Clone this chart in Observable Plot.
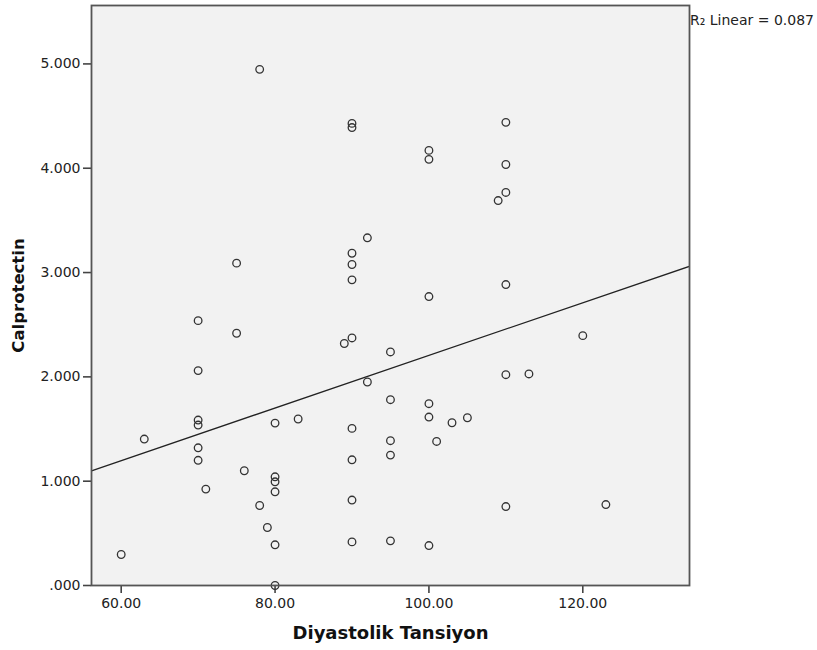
<!DOCTYPE html>
<html><head><meta charset="utf-8">
<script src="https://cdn.jsdelivr.net/npm/d3@7"></script>
<script src="https://cdn.jsdelivr.net/npm/@observablehq/plot@0.6"></script>
<style>
html,body{margin:0;padding:0;background:#fff;}
#chart{position:relative;width:817px;height:650px;}
#rsq{position:absolute;left:690px;top:12px;font:14px "DejaVu Sans",sans-serif;color:#222;white-space:nowrap;line-height:16px;}
</style></head><body><div id="chart"><div id="rsq"></div></div>
<script>
// Diastolic blood pressure (x) and calprotectin (y)
const diastolic = [60,63,70,70,70,70,70,70,71,75,75,76,78,78,79,80,80,80,80,80,80,83,89,
  90,90,90,90,90,90,90,90,90,90,92,92,95,95,95,95,95,100,100,100,100,100,100,101,103,105,109,
  110,110,110,110,110,110,113,120,123];
const calprotectin = [0.297,1.404,2.539,2.06,1.586,1.538,1.32,1.20,0.924,3.09,2.418,1.10,4.948,0.767,0.556,
  1.557,1.042,0.994,0.898,0.39,0.0,1.596,2.32,
  2.373,4.43,4.39,3.185,3.077,2.93,1.506,1.205,0.819,0.418,3.333,1.951,2.239,1.781,1.388,1.25,0.428,
  4.171,4.085,2.77,1.743,1.615,0.383,1.381,1.56,1.608,3.69,
  4.44,4.036,3.768,2.885,2.021,0.757,2.028,2.395,0.776];
const xTicks = [60,80,100,120];
const yTicks = [0,1,2,3,4,5];
const xDomain = [56.14,133.87];
const yDomain = [0,5.56];
// fit line as drawn in the picture (intercept, slope)
const fitIntercept = -0.316;
const fitSlope = 0.02522;
const xTitle = "Diyastolik Tansiyon";
const yTitle = "Calprotectin";
const fitLabel = "R₂ Linear = 0.087";

const points = diastolic.map((x,i)=>({x, y: calprotectin[i]}));
const fitLine = xDomain.map(x=>({x, y: fitIntercept + fitSlope*x}));

const chart = Plot.plot({
  width: 817, height: 650,
  marginLeft: 91, marginRight: 128, marginTop: 5, marginBottom: 65,
  style: {fontFamily: "'DejaVu Sans', sans-serif", fontSize: "14px", color: "#222", background: "white", overflow: "visible"},
  x: {domain: xDomain},
  y: {domain: yDomain},
  marks: [
    Plot.frame({fill: "#f2f2f2"}),
    Plot.axisX({ticks: xTicks, tickSize: 8, tickPadding: 5, tickFormat: d=>d.toFixed(2), label: null, stroke: "#444", strokeWidth: 1.6}),
    Plot.axisY({ticks: yTicks, tickSize: 8, tickPadding: 3, tickFormat: d=>d.toFixed(3).replace(/^0/,""), label: null, stroke: "#444", strokeWidth: 1.6}),
    Plot.line(fitLine, {x: "x", y: "y", stroke: "#222", strokeWidth: 1.3, clip: true}),
    Plot.dot(points, {x: "x", y: "y", r: 3.8, stroke: "#333", strokeWidth: 1.3, fill: "none"}),
    Plot.frame({stroke: "#555", strokeWidth: 1.8}),
    Plot.text([xTitle], {frameAnchor: "bottom", dy: 48, lineAnchor: "middle", textAnchor: "middle", fontSize: 18, fontWeight: "bold", fill: "#111"}),
    Plot.text([yTitle], {frameAnchor: "left", dx: -73, rotate: -90, lineAnchor: "middle", textAnchor: "middle", fontSize: 16.5, fontWeight: "bold", fill: "#111"})
  ]
});
document.getElementById("chart").prepend(chart);
document.getElementById("rsq").textContent = fitLabel;
</script>
</body></html>
